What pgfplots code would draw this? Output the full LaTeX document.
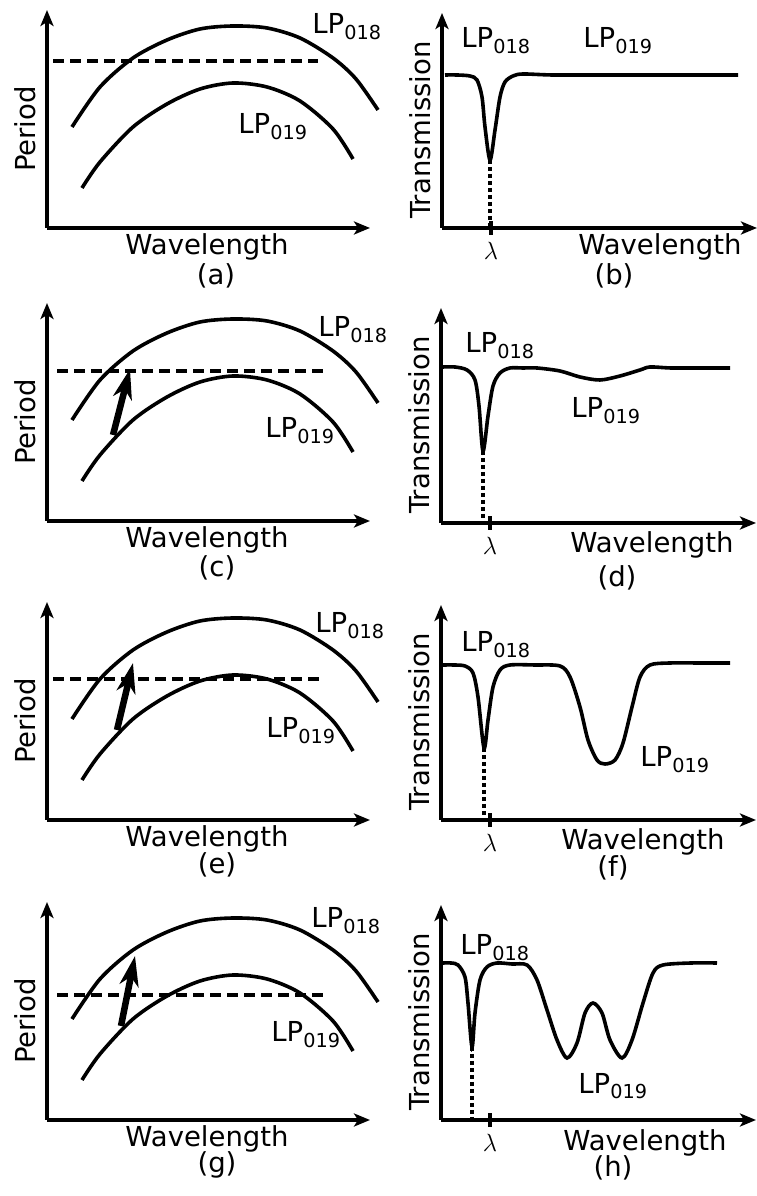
\documentclass[border=0pt]{standalone}
\usepackage{fontspec}
\setmainfont{DejaVu Sans}
\usepackage{pgfplots}
\usepackage{pgfplotstable}
\pgfplotsset{compat=1.18}
\usetikzlibrary{arrows.meta}

% left column: period curves, in px above the x axis / right of the y axis
\pgfplotstableread{
x y
25 101
53 141
86 170
120 188
153 199
186 202
220 200
253 190
286 170
309 149
331 118
}\tabUp
\pgfplotstableread{
x y
35 40
53 66
86 101
120 124
153 139
186 145
220 141
253 127
286 99
306 69
}\tabLow

% right column: transmission spectra
\pgfplotstableread{
x y
3 153
15 153
28 152
35 148
40 131
43 101
48 68
53 98
58 131
63 146
71 152
81 154
110 153
150 153
200 153
250 153
296 153
}\tabB
\pgfplotstableread{
x y
2 156
14 156
26 153
34 143
38 117
42 72
47 107
52 137
59 150
69 155
82 155
96 155
119 152
139 146
159 143
179 147
199 153
209 156
230 155
260 155
289 155
}\tabD
\pgfplotstableread{
x y
2 155
13 155
24 154
32 147
37 123
43 72
47 100
52 133
59 150
69 155
94 155
119 154
129 143
139 113
147 80
156 60
164 56
174 60
182 77
191 113
199 143
209 155
229 157
260 157
289 157
}\tabF
\pgfplotstableread{
x y
2 157
10 157
17 155
24 143
27 117
31 73
34 107
39 140
46 153
56 157
71 156
86 155
96 140
106 110
116 80
126 62
136 77
144 107
152 117
161 107
169 80
181 62
191 80
202 117
212 147
222 155
250 157
276 157
}\tabH

\newcommand{\LP}[1]{LP\textsubscript{#1}}

\pgfplotsset{
  base/.style={scale only axis, enlargelimits=false, clip=false,
    axis lines=left,
    x axis line style={line width=4pt, -{Stealth[length=16pt,width=13pt,inset=4pt]}},
    y axis line style={line width=4pt, -{Stealth[length=16pt,width=13pt,inset=4pt]}},
    xtick=\empty, ytick=\empty, anchor=south west},
  left panel/.style={base, width=323pt, height=218pt,
    xmin=0, xmax=323, ymin=0, ymax=218},
  right panel/.style={base, width=315pt, height=215pt,
    xmin=0, xmax=315, ymin=0, ymax=215,
    xtick={49}, xticklabels={$\lambda$}, major tick length=14pt,
    xtick align=center, tick style={line width=3.8pt, black},
    xticklabel style={font=\fontsize{24}{28}\selectfont, yshift=2pt}},
  curve/.style={black, line width=3.6pt, smooth, no markers},
  dashline/.style={black, line width=4.2pt, dash pattern=on 11pt off 6pt, no markers},
  dotline/.style={black, line width=3.2pt, dash pattern=on 4pt off 3pt, no markers},
  push/.style={black, line width=6.5pt, -{Stealth[length=30pt,width=19pt,inset=9pt]}, no markers},
}

\begin{document}
\fontsize{27.5}{32}\selectfont
\begin{tikzpicture}
\path[use as bounding box] (0,0) rectangle (757pt,1196pt);

% (a)
\begin{axis}[left panel, at={(47pt,968pt)}]
  \addplot[curve] table {\tabUp};
  \addplot[curve] table {\tabLow};
  \addplot[dashline] coordinates {(6,167) (271,167)};
  \node[anchor=base west] at (256,194) {\LP{018}};
  \node[anchor=base west] at (182,94) {\LP{019}};
  \node[rotate=90] at (-22,99) {Period};
  \node[anchor=base] at (160,-27) {Wavelength};
  \node at (169,-48) {(a)};
\end{axis}

% (b)
\begin{axis}[right panel, at={(442pt,968pt)}]
  \addplot[curve] table {\tabB};
  \addplot[dotline] coordinates {(48,68) (48,0)};
  \node[anchor=base west] at (10,180) {\LP{018}};
  \node[anchor=base west] at (132,180) {\LP{019}};
  \node[rotate=90] at (-22,98) {Transmission};
  \node[anchor=base west] at (127,-27) {Wavelength};
  \node at (172,-48) {(b)};
\end{axis}

% (c)
\begin{axis}[left panel, at={(47pt,675pt)}]
  \addplot[curve] table {\tabUp};
  \addplot[curve] table {\tabLow};
  \addplot[dashline] coordinates {(10,150) (278,150)};
  \addplot[push] coordinates {(66,86) (83,152)};
  \node[anchor=base west] at (262,184) {\LP{018}};
  \node[anchor=base west] at (209,83) {\LP{019}};
  \node[rotate=90] at (-22,99) {Period};
  \node[anchor=base] at (160,-27) {Wavelength};
  \node at (170,-47) {(c)};
\end{axis}

% (d)
\begin{axis}[right panel, at={(441pt,673pt)}]
  \addplot[curve] table {\tabD};
  \addplot[dotline] coordinates {(42,72) (42,0)};
  \node[anchor=base west] at (15,170) {\LP{018}};
  \node[anchor=base west] at (121,105) {\LP{019}};
  \node[rotate=90] at (-22,98) {Transmission};
  \node[anchor=base west] at (120,-30) {Wavelength};
  \node at (176,-55) {(d)};
\end{axis}

% (e)
\begin{axis}[left panel, at={(47pt,376pt)}]
  \addplot[curve] table {\tabUp};
  \addplot[curve] table {\tabLow};
  \addplot[dashline] coordinates {(6,141) (275,141)};
  \addplot[push] coordinates {(70,90) (86,157)};
  \node[anchor=base west] at (259,187) {\LP{018}};
  \node[anchor=base west] at (210,82) {\LP{019}};
  \node[rotate=90] at (-22,99) {Period};
  \node[anchor=base] at (160,-27) {Wavelength};
  \node at (170,-45) {(e)};
\end{axis}

% (f)
\begin{axis}[right panel, at={(441pt,376pt)}]
  \addplot[curve] table {\tabF};
  \addplot[dotline] coordinates {(43,72) (43,0)};
  \node[anchor=base west] at (11,168) {\LP{018}};
  \node[anchor=base west] at (190,53) {\LP{019}};
  \node[rotate=90] at (-22,98) {Transmission};
  \node[anchor=base west] at (111,-30) {Wavelength};
  \node at (172,-48) {(f)};
\end{axis}

% (g)
\begin{axis}[left panel, at={(47pt,76pt)}]
  \addplot[curve] table {\tabUp};
  \addplot[curve] table {\tabLow};
  \addplot[dashline] coordinates {(10,125) (278,125)};
  \addplot[push] coordinates {(74,94) (88,164)};
  \node[anchor=base west] at (255,192) {\LP{018}};
  \node[anchor=base west] at (215,78) {\LP{019}};
  \node[rotate=90] at (-22,99) {Period};
  \node[anchor=base] at (160,-27) {Wavelength};
  \node at (170,-45) {(g)};
\end{axis}

% (h)
\begin{axis}[right panel, at={(441pt,76pt)}]
  \addplot[curve] table {\tabH};
  \addplot[dotline] coordinates {(31,73) (31,0)};
  \node[anchor=base west] at (10,165) {\LP{018}};
  \node[anchor=base west] at (128,27) {\LP{019}};
  \node[rotate=90] at (-22,98) {Transmission};
  \node[anchor=base west] at (113,-30) {Wavelength};
  \node at (172,-48) {(h)};
\end{axis}
\end{tikzpicture}
\end{document}
